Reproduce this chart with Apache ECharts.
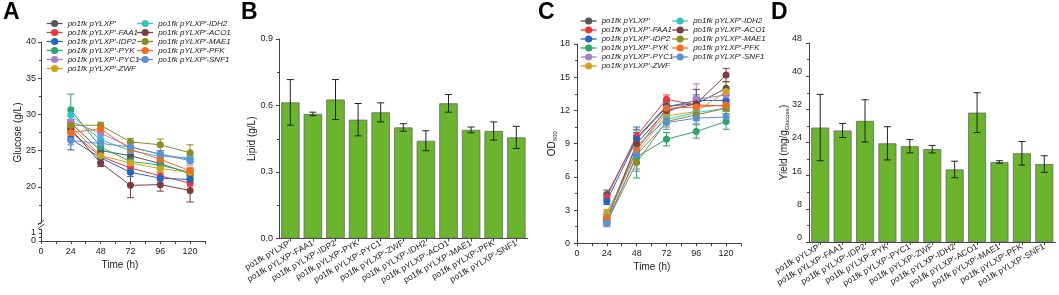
<!DOCTYPE html>
<html>
<head>
<meta charset="utf-8">
<script src="https://cdn.jsdelivr.net/npm/echarts@6/dist/echarts.min.js"></script>
<style>
  html, body { margin: 0; padding: 0; background: #fff; }
  #chart { width: 1059px; height: 295px; }
</style>
</head>
<body>
<div id="chart"></div>
<script>
// 菌株名称
var strains = [
  "po1fk pYLXP′", "po1fk pYLXP′-FAA1", "po1fk pYLXP′-IDP2", "po1fk pYLXP′-PYK",
  "po1fk pYLXP′-PYC1", "po1fk pYLXP′-ZWF", "po1fk pYLXP′-IDH2", "po1fk pYLXP′-ACO1",
  "po1fk pYLXP′-MAE1", "po1fk pYLXP′-PFK", "po1fk pYLXP′-SNF1"
];
var colors = [
  "#555555", "#e8393f", "#2365c4", "#2aa56b", "#a77fcc", "#d3a21c",
  "#33c3c6", "#7b3d3f", "#8e8c25", "#f26b21", "#5c90d2"
];
var times = [24, 48, 72, 96, 120];

// A: 葡萄糖 (g/L)
var glucose = [
  [28.8, 25.0, 24.3, 23.2, 21.8],
  [27.6, 24.2, 22.6, 21.5, 20.5],
  [26.6, 24.0, 22.0, 21.2, 21.0],
  [30.6, 25.5, 23.5, 23.0, 22.0],
  [29.0, 27.4, 25.5, 24.5, 23.8],
  [28.4, 24.3, 23.3, 22.5, 22.0],
  [29.9, 26.5, 25.0, 24.2, 24.0],
  [28.0, 23.3, 20.2, 20.3, 19.5],
  [28.5, 28.5, 26.2, 25.8, 24.7],
  [27.5, 28.0, 25.2, 23.8, 22.2],
  [26.4, 26.0, 25.5, 24.5, 23.6]
];
var glucoseSd = [
  [0.5, 0.4, 0.4, 0.5, 0.5],
  [0.6, 0.4, 0.5, 0.5, 0.4],
  [1.5, 0.5, 0.6, 0.4, 0.5],
  [2.2, 0.5, 0.5, 0.5, 0.5],
  [0.8, 0.5, 0.6, 0.5, 0.5],
  [0.6, 0.4, 0.5, 0.5, 0.4],
  [1.0, 0.6, 0.5, 0.6, 0.5],
  [0.6, 0.5, 1.7, 0.9, 1.6],
  [0.6, 0.4, 0.5, 0.8, 1.1],
  [0.5, 0.5, 1.0, 0.5, 0.5],
  [0.6, 0.5, 0.5, 0.5, 0.6]
];

// B: 油脂 (g/L)
var lipid = [0.614, 0.562, 0.627, 0.536, 0.569, 0.501, 0.441, 0.610, 0.490, 0.485, 0.456];
var lipidSd = [0.103, 0.008, 0.09, 0.073, 0.043, 0.017, 0.045, 0.04, 0.013, 0.041, 0.05];

// C: OD600
var od = [
  [4.4, 9.5, 12.4, 12.6, 14.0],
  [4.2, 9.7, 13.0, 12.5, 12.4],
  [3.8, 9.4, 12.3, 12.9, 12.9],
  [2.0, 7.8, 9.4, 10.1, 11.0],
  [2.2, 8.5, 11.8, 13.0, 13.4],
  [2.75, 8.2, 11.5, 11.9, 13.7],
  [2.4, 8.8, 11.2, 11.8, 12.2],
  [2.1, 9.0, 12.0, 12.6, 15.2],
  [1.9, 7.3, 11.0, 11.6, 12.2],
  [2.3, 8.4, 12.2, 12.3, 12.5],
  [1.8, 8.0, 10.9, 11.3, 11.4]
];
var odSd = [
  [0.4, 0.5, 0.5, 0.6, 0.6],
  [0.3, 0.6, 0.4, 0.6, 0.5],
  [0.3, 1.1, 0.5, 0.5, 0.5],
  [0.3, 1.9, 0.6, 0.6, 0.7],
  [0.3, 0.6, 0.6, 1.4, 0.5],
  [0.3, 0.6, 0.5, 0.5, 0.9],
  [0.3, 1.4, 0.5, 0.5, 0.5],
  [0.3, 0.5, 0.5, 1.3, 0.6],
  [0.3, 0.6, 0.5, 0.5, 0.5],
  [0.3, 0.7, 0.5, 0.5, 0.5],
  [0.3, 1.5, 0.6, 0.5, 0.5]
];

// D: 得率 (mg/g glucose)
var yieldVal = [27.6, 26.9, 29.2, 23.8, 23.1, 22.4, 17.5, 31.2, 19.3, 21.4, 18.8];
var yieldSd = [8.0, 1.7, 5.1, 4.0, 1.6, 0.9, 2.0, 4.8, 0.3, 2.85, 2.0];

var font = 'Arial, "Liberation Sans", sans-serif';
var barColor = "#6ab42e";

// 误差线
function errorBar(half, fixedColor) {
  return function (params, api) {
    var x = api.value(0);
    var hi = api.coord([x, api.value(2)]);
    var lo = api.coord([x, api.value(1)]);
    var stroke = fixedColor || colors[api.value(3)];
    function seg(x1, y1, x2, y2) {
      return { type: "line", shape: { x1: x1, y1: y1, x2: x2, y2: y2 }, style: { stroke: stroke, lineWidth: 1 } };
    }
    return {
      type: "group",
      children: [
        seg(hi[0], hi[1], lo[0], lo[1]),
        seg(hi[0] - half, hi[1], hi[0] + half, hi[1]),
        seg(lo[0] - half, lo[1], lo[0] + half, lo[1])
      ]
    };
  };
}

function lineAxis(extra) {
  var base = {
    axisLine: { show: true, lineStyle: { color: "#444", width: 1 } },
    axisTick: { show: true, inside: false, length: 3, lineStyle: { color: "#444" } },
    axisLabel: { color: "#222", fontSize: 9, fontFamily: font, margin: 5 },
    splitLine: { show: false },
    nameTextStyle: { color: "#222", fontSize: 10, fontFamily: font },
    nameMoveOverlap: false
  };
  for (var k in extra) base[k] = extra[k];
  return base;
}

function legendCol(names, left, top) {
  return {
    data: names,
    left: left,
    top: top,
    orient: "vertical",
    padding: 0,
    itemWidth: 16,
    itemHeight: 9,
    itemGap: 0,
    selectedMode: false,
    lineStyle: { width: 1.3 },
    textStyle: { fontSize: 8, fontStyle: "italic", fontFamily: font, color: "#222", lineHeight: 9 }
  };
}

var series = [];
var errA = [], errC = [];
strains.forEach(function (name, i) {
  series.push({
    name: name, type: "line", xAxisIndex: 0, yAxisIndex: 0,
    data: times.map(function (t, j) { return [t, glucose[i][j]]; }),
    symbol: "circle", symbolSize: 7, color: colors[i],
    lineStyle: { width: 1 }, z: 3
  });
  series.push({
    name: name, type: "line", xAxisIndex: 3, yAxisIndex: 3,
    data: times.map(function (t, j) { return [t, od[i][j]]; }),
    symbol: "circle", symbolSize: 7, color: colors[i],
    lineStyle: { width: 1 }, z: 3
  });
  times.forEach(function (t, j) {
    errA.push([t, glucose[i][j] - glucoseSd[i][j], glucose[i][j] + glucoseSd[i][j], i]);
    errC.push([t, od[i][j] - odSd[i][j], od[i][j] + odSd[i][j], i]);
  });
});

series.push({ type: "custom", xAxisIndex: 0, yAxisIndex: 0, z: 2, renderItem: errorBar(3.5), encode: { x: 0, y: [1, 2] }, data: errA });
series.push({ type: "custom", xAxisIndex: 3, yAxisIndex: 3, z: 2, renderItem: errorBar(3.5), encode: { x: 0, y: [1, 2] }, data: errC });

var barStyle = { color: barColor, borderColor: "#666", borderWidth: 0.8 };
series.push({ type: "bar", xAxisIndex: 2, yAxisIndex: 2, data: lipid, barWidth: 18.5, itemStyle: barStyle });
series.push({
  type: "custom", xAxisIndex: 2, yAxisIndex: 2, z: 4, renderItem: errorBar(3.5, "#222"), encode: { x: 0, y: [1, 2] },
  data: lipid.map(function (v, i) { return [i, v - lipidSd[i], v + lipidSd[i]]; })
});
series.push({ type: "bar", xAxisIndex: 4, yAxisIndex: 4, data: yieldVal, barWidth: 18, itemStyle: barStyle });
series.push({
  type: "custom", xAxisIndex: 4, yAxisIndex: 4, z: 4, renderItem: errorBar(3.5, "#222"), encode: { x: 0, y: [1, 2] },
  data: yieldVal.map(function (v, i) { return [i, v - yieldSd[i], v + yieldSd[i]]; })
});

var timeLabel = { formatter: function (v) { return v % 24 === 0 ? v : ""; } };
var catLabel = { color: "#222", fontSize: 8.5, fontFamily: font, rotate: 30, interval: 0, margin: 4 };
var minor = { show: true, splitNumber: 2, length: 2, lineStyle: { color: "#444" } };

var chart = echarts.init(document.getElementById("chart"));
chart.setOption({
  animation: false,
  textStyle: { fontFamily: font },
  grid: [
    { left: 41, top: 42, width: 164, height: 181, outerBoundsMode: "none" },
    { left: 41, top: 229, width: 164, height: 12, outerBoundsMode: "none" },
    { left: 279, top: 39, width: 248.6, height: 199.5, outerBoundsMode: "none" },
    { left: 577, top: 44, width: 164, height: 199.3, outerBoundsMode: "none" },
    { left: 809, top: 43, width: 246.5, height: 199, outerBoundsMode: "none" }
  ],
  legend: [
    legendCol(strains.slice(0, 6), 46, 19),
    legendCol(strains.slice(6), 136.5, 19),
    legendCol(strains.slice(0, 6), 580, 16.5),
    legendCol(strains.slice(6), 671.5, 16.5)
  ],
  xAxis: [
    { type: "value", gridIndex: 0, min: 0, max: 132, interval: 12, show: false },
    lineAxis({
      type: "value", gridIndex: 1, min: 0, max: 132, interval: 12,
      axisLabel: { color: "#222", fontSize: 9, fontFamily: font, margin: 6, formatter: timeLabel.formatter },
      name: "Time (h)", nameLocation: "middle", nameGap: 19,
      nameTextStyle: { color: "#222", fontSize: 10, fontFamily: font, padding: [0, 6, 0, 0] }
    }),
    lineAxis({
      type: "category", gridIndex: 2, data: strains,
      axisTick: { show: true, alignWithLabel: true, length: 3, lineStyle: { color: "#444" } },
      axisLabel: catLabel
    }),
    lineAxis({
      type: "value", gridIndex: 3, min: 0, max: 132, interval: 12,
      axisLabel: { color: "#222", fontSize: 9, fontFamily: font, margin: 6, formatter: timeLabel.formatter },
      name: "Time (h)", nameLocation: "middle", nameGap: 19,
      nameTextStyle: { color: "#222", fontSize: 10, fontFamily: font, padding: [0, 14, 0, 0] }
    }),
    lineAxis({
      type: "category", gridIndex: 4, data: strains,
      axisTick: { show: true, alignWithLabel: true, length: 3, lineStyle: { color: "#444" } },
      axisLabel: catLabel
    })
  ],
  yAxis: [
    lineAxis({
      type: "value", gridIndex: 0, min: 15, max: 40, interval: 5, minorTick: minor,
      axisLabel: { color: "#222", fontSize: 9, fontFamily: font, margin: 5, formatter: function (v) { return v >= 20 ? v : ""; } },
      name: "Glucose (g/L)", nameLocation: "middle", nameGap: 18
    }),
    lineAxis({
      type: "value", gridIndex: 1, min: 0, max: 1.5, interval: 0.5,
      axisTick: { show: true, length: 2, lineStyle: { color: "#444" } },
      axisLabel: { color: "#222", fontSize: 9, fontFamily: font, margin: 5, formatter: function (v) { return v % 1 === 0 ? v : ""; } }
    }),
    lineAxis({
      type: "value", gridIndex: 2, min: 0, max: 0.9, interval: 0.3, minorTick: minor,
      axisLabel: { color: "#222", fontSize: 9, fontFamily: font, margin: 6, formatter: function (v) { return v.toFixed(1); } },
      name: "Lipid (g/L)", nameLocation: "middle", nameGap: 22
    }),
    lineAxis({
      type: "value", gridIndex: 3, min: 0, max: 18, interval: 3, minorTick: minor,
      axisLabel: { color: "#222", fontSize: 9, fontFamily: font, margin: 7 },
      name: "{a|OD}{b|600}", nameLocation: "middle", nameGap: 19,
      nameTextStyle: {
        rich: {
          a: { fontSize: 10, fontFamily: font, color: "#222", lineHeight: 12 },
          b: { fontSize: 6, fontFamily: font, color: "#222", lineHeight: 12, verticalAlign: "bottom" }
        }
      }
    }),
    lineAxis({
      type: "value", gridIndex: 4, min: 0, max: 48, interval: 8, minorTick: minor,
      axisLabel: { color: "#222", fontSize: 9, fontFamily: font, margin: 7, verticalAlign: "bottom" },
      name: "{a|Yield (mg/g}{b|Glucose}{a|)}", nameLocation: "middle", nameGap: 19,
      nameTextStyle: {
        rich: {
          a: { fontSize: 10, fontFamily: font, color: "#222", lineHeight: 12 },
          b: { fontSize: 6, fontFamily: font, color: "#222", lineHeight: 12, verticalAlign: "bottom" }
        }
      }
    })
  ],
  graphic: [
    { type: "text", left: 3, top: 1, style: { text: "A", font: "bold 23px " + font, fill: "#000" } },
    { type: "text", left: 241, top: 1, style: { text: "B", font: "bold 23px " + font, fill: "#000" } },
    { type: "text", left: 538, top: 1, style: { text: "C", font: "bold 23px " + font, fill: "#000" } },
    { type: "text", left: 771, top: 1, style: { text: "D", font: "bold 23px " + font, fill: "#000" } },
    // 断轴标记
    { type: "polyline", shape: { points: [[38, 225], [44, 220]] }, style: { stroke: "#444", lineWidth: 1, fill: null } },
    { type: "polyline", shape: { points: [[38, 229], [44, 224]] }, style: { stroke: "#444", lineWidth: 1, fill: null } }
  ],
  series: series
});
</script>
</body>
</html>
